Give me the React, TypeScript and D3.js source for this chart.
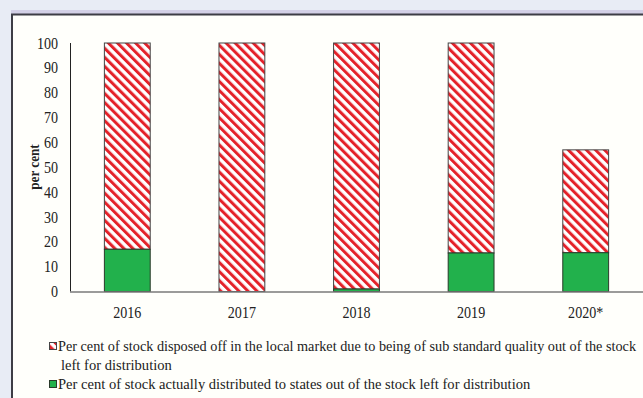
import React from "react";
import * as d3 from "d3";

const categories = ["2016", "2017", "2018", "2019", "2020*"];
const distributed = [17, 0, 1, 15.5, 15.6];
const disposed = [83, 100, 99, 84.5, 41.4];
const yTicks = [0, 10, 20, 30, 40, 50, 60, 70, 80, 90, 100];
const legendLabels = [
  "Per cent of stock disposed off in the local market due to being of sub standard quality out of the stock",
  "left for distribution",
  "Per cent of stock actually distributed to states out of the stock left for distribution",
];
const yTitle = "per cent";

const W = 643;
const H = 398;
const FONT = "'Liberation Serif', 'Times New Roman', serif";
const SX = 0.88;

function T(props: {
  x: number;
  y: number;
  anchor?: "start" | "middle" | "end";
  size?: number;
  bold?: boolean;
  rotate?: number;
  sx?: number;
  children: React.ReactNode;
}) {
  const { x, y, anchor = "start", size = 16, bold, rotate = 0, sx = SX, children } = props;
  return (
    <text
      transform={`translate(${x},${y}) rotate(${rotate}) scale(${sx},1)`}
      dy="0.35em"
      textAnchor={anchor}
      fontSize={size}
      fontWeight={bold ? "bold" : "normal"}
      fill="#222"
    >
      {children}
    </text>
  );
}

export default function App() {
  const x = d3
    .scaleBand<string>()
    .domain(categories)
    .range([70, 643])
    .paddingInner(0.6)
    .paddingOuter(0.3);
  const y = d3.scaleLinear().domain([0, 100]).range([291.5, 43]);

  const rows = categories.map((c, i) => ({
    c,
    g: distributed[i],
    r: disposed[i],
  }));

  return (
    <svg
      width={W}
      height={H}
      style={{ position: "absolute", left: 0, top: 0 }}
      fontFamily={FONT}
    >
      <defs>
        <pattern
          id="hatch"
          patternUnits="userSpaceOnUse"
          width={6.4}
          height={6.4}
          patternTransform="rotate(-45)"
        >
          <rect width={6.4} height={6.4} fill="#ffffff" />
          <rect width={3} height={6.4} fill="#e4222a" />
        </pattern>
      </defs>
      <rect width={W} height={H} fill="#e8ecf5" />
      <rect x={11} y={10} width={W} height={4} fill="#d3d0e6" />
      <rect x={11} y={14} width={W} height={H} fill="#fffffb" />
      <line x1={11} x2={W} y1={14.5} y2={14.5} stroke="#3d3d45" strokeWidth={2} />
      <line x1={12} x2={12} y1={14} y2={H} stroke="#3d3d45" strokeWidth={2} />

      {yTicks.map((t) => (
        <T key={t} x={58} y={y(t)} anchor="end">
          {t}
        </T>
      ))}
      <line x1={70.5} x2={70.5} y1={y(100)} y2={y(0)} stroke="#222" strokeWidth={1} />

      <T x={34} y={167} anchor="middle" bold size={15} rotate={-90}>
        {yTitle}
      </T>

      {rows.map((d) => {
        const bx = x(d.c)!;
        const bw = x.bandwidth();
        return (
          <g key={d.c}>
            {d.r > 0 && (
              <rect
                x={bx}
                y={y(d.g + d.r)}
                width={bw}
                height={y(d.g) - y(d.g + d.r)}
                fill="url(#hatch)"
                stroke="#444"
                strokeWidth={1}
              />
            )}
            {d.g > 0 && (
              <rect
                x={bx}
                y={y(d.g)}
                width={bw}
                height={y(0) - y(d.g)}
                fill="#22b14c"
                stroke="#2a3a2a"
                strokeWidth={1}
              />
            )}
          </g>
        );
      })}

      <line x1={70} x2={W} y1={y(0) + 0.5} y2={y(0) + 0.5} stroke="#7a7a7a" strokeWidth={1.5} />

      {categories.map((c) => (
        <T key={c} x={x(c)! + x.bandwidth() / 2} y={312} anchor="middle">
          {c}
        </T>
      ))}

      <rect x={49.5} y={342.5} width={7} height={7} fill="url(#hatch)" stroke="#444" strokeWidth={1} />
      <T x={58} y={346} size={15.5} sx={0.92}>{legendLabels[0]}</T>
      <T x={61} y={365} size={15.5} sx={0.94}>{legendLabels[1]}</T>
      <rect x={49.5} y={380.5} width={7} height={7} fill="#22b14c" stroke="#2a3a2a" strokeWidth={1} />
      <T x={58} y={384} size={15.5} sx={0.94}>{legendLabels[2]}</T>
    </svg>
  );
}
